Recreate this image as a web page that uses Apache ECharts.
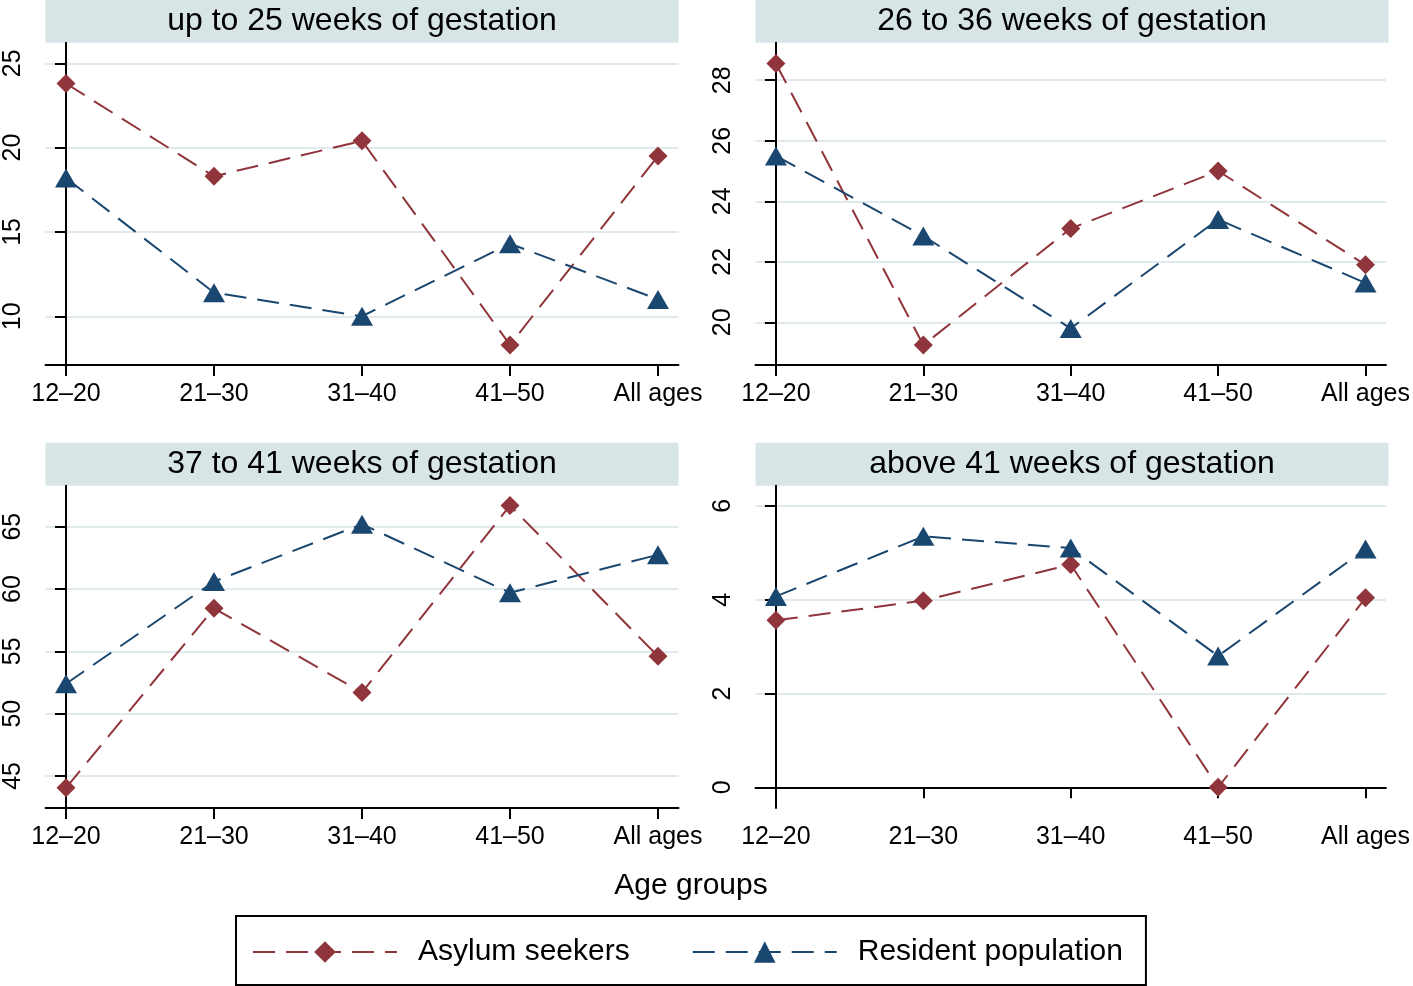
<!DOCTYPE html>
<html>
<head>
<meta charset="utf-8">
<script src="https://cdn.jsdelivr.net/npm/echarts@6/dist/echarts.min.js"></script>
<style>
html,body{margin:0;padding:0;background:#fff;}
#chart{width:1413px;height:986px;}
</style>
</head>
<body>
<div id="chart"></div>
<script>
// ---- data ----
const categories = ['12–20', '21–30', '31–40', '41–50', 'All ages'];
const panelTitles = ['up to 25 weeks of gestation', '26 to 36 weeks of gestation', '37 to 41 weeks of gestation', 'above 41 weeks of gestation'];
const seriesNames = ['Asylum seekers', 'Resident population'];
const asylum1 = [23.8, 18.3, 20.4, 8.3, 19.5];
const resident1 = [18.2, 11.4, 10.0, 14.3, 11.0];
const asylum2 = [28.55, 19.25, 23.1, 25.0, 21.9];
const resident2 = [25.5, 22.85, 19.8, 23.4, 21.3];
const asylum3 = [44.05, 58.45, 51.7, 66.7, 54.6];
const resident3 = [52.4, 60.6, 65.2, 59.7, 62.75];
const asylum4 = [3.56, 3.98, 4.75, 0.0, 4.04];
const resident4 = [4.07, 5.35, 5.1, 2.8, 5.08];
const yTicks1 = [10, 15, 20, 25];
const yTicks2 = [20, 22, 24, 26, 28];
const yTicks3 = [45, 50, 55, 60, 65];
const yTicks4 = [0, 2, 4, 6];
const xAxisTitle = 'Age groups';

// ---- layout / style ----
const FONT = "'Liberation Sans', Arial, Helvetica, sans-serif";
const RED = '#90353B', BLUE = '#1A476F';
const GRID_LINE = '#e0eaec', BOX = '#d8e5e7';
const panels = [
  {left: 45.5, top: 42.7, ymin: 7.11, ymax: 26.22, ticks: yTicks1, a: asylum1, r: resident1},
  {left: 755.5, top: 42.7, ymin: 18.59, ymax: 29.24, ticks: yTicks2, a: asylum2, r: resident2},
  {left: 45.5, top: 485.7, ymin: 42.43, ymax: 68.29, ticks: yTicks3, a: asylum3, r: resident3},
  {left: 755.5, top: 485.7, ymin: -0.44, ymax: 6.43, ticks: yTicks4, a: asylum4, r: resident4}
];
const W = 633, H = 322.3;
const xIdx = categories.map((c, i) => i);

const grid = [], xAxis = [], yAxis = [], series = [], title = [], graphicEls = [];
panels.forEach((p, k) => {
  grid.push({left: p.left, top: p.top, width: W, height: H, containLabel: false});
  xAxis.push({
    type: 'value', gridIndex: k, min: -0.1385, max: 4.1385,
    axisLine: {show: true, lineStyle: {color: '#000', width: 2}},
    axisTick: {show: true, length: 11, customValues: xIdx, lineStyle: {color: '#000', width: 2}},
    axisLabel: {customValues: xIdx, formatter: v => categories[Math.round(v)] || '', color: '#000',
      fontFamily: FONT, fontSize: 25, margin: 17},
    splitLine: {show: false}
  });
  yAxis.push({
    type: 'value', gridIndex: k, min: p.ymin, max: p.ymax,
    axisLine: {show: true, lineStyle: {color: '#000', width: 2}},
    axisTick: {show: true, length: 11, customValues: p.ticks, lineStyle: {color: '#000', width: 2}},
    axisLabel: {customValues: p.ticks, rotate: 90, color: '#000', fontFamily: FONT, fontSize: 25, margin: 20},
    splitLine: {show: true, lineStyle: {color: GRID_LINE, width: 2}}
  });
  series.push({
    name: seriesNames[0], type: 'line', xAxisIndex: k, yAxisIndex: k,
    data: p.a.map((v, i) => [xIdx[i], v]),
    symbol: 'diamond', symbolSize: [19, 19],
    itemStyle: {color: RED}, lineStyle: {color: RED, width: 2, type: [22, 11]},
    emphasis: {disabled: true}, animation: false
  });
  series.push({
    name: seriesNames[1], type: 'line', xAxisIndex: k, yAxisIndex: k,
    data: p.r.map((v, i) => [xIdx[i], v]),
    symbol: 'triangle', symbolSize: [22, 19],
    itemStyle: {color: BLUE}, lineStyle: {color: BLUE, width: 2, type: [22, 11]},
    emphasis: {disabled: true}, animation: false
  });
  graphicEls.push({type: 'rect', shape: {x: p.left, y: p.top - 43, width: W, height: 43},
    style: {fill: BOX}, z: -10, silent: true});
  title.push({text: panelTitles[k], left: p.left + W / 2, textAlign: 'center', top: p.top - 43 + 5,
    padding: 0, textStyle: {fontFamily: FONT, fontSize: 32, fontWeight: 'normal', color: '#000', lineHeight: 32}});
});
title.push({text: xAxisTitle, left: 691, textAlign: 'center', top: 871, padding: 0,
  textStyle: {fontFamily: FONT, fontSize: 30, fontWeight: 'normal', color: '#000', lineHeight: 30}});

const chart = echarts.init(document.getElementById('chart'), null, {renderer: 'canvas'});
chart.setOption({
  backgroundColor: '#fff',
  animation: false,
  title: title,
  grid: grid,
  xAxis: xAxis,
  yAxis: yAxis,
  series: series,
  graphic: graphicEls,
  legend: {
    data: seriesNames, left: 236, top: 916, orient: 'horizontal',
    padding: [21, 23, 18, 16], itemGap: 62, itemWidth: 144, itemHeight: 27,
    borderColor: '#000', borderWidth: 2, backgroundColor: '#fff',
    selectedMode: false,
    textStyle: {fontFamily: FONT, fontSize: 30, color: '#000', lineHeight: 27, padding: [0, 0, 0, 16]}
  }
});
</script>
</body>
</html>
